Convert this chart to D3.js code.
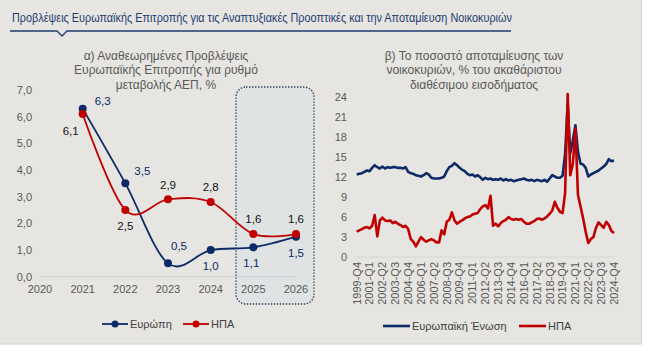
<!DOCTYPE html>
<html>
<head>
<meta charset="utf-8">
<script src="https://cdn.jsdelivr.net/npm/d3@7"></script>
<style>
  body { margin: 0; background: #ffffff; }
  svg { display: block; font-family: "Liberation Sans", Arial, sans-serif; }
</style>
</head>
<body>
<svg id="chart" width="650" height="351"></svg>
<script>
// ---- data ----
const years = [2021, 2022, 2023, 2024, 2025, 2026];
const europeGdp = [6.3, 3.5, 0.5, 1.0, 1.1, 1.5];
const usaGdp = [6.1, 2.5, 2.9, 2.8, 1.6, 1.6];
const yearTicks = [2020, 2021, 2022, 2023, 2024, 2025, 2026];
const gdpTicks = [0, 1, 2, 3, 4, 5, 6, 7];

// quarterly saving rates, 1999-Q4 .. 2024-Q4
const euSaving = [
  12.4, 12.5, 12.6, 12.8, 13.0, 12.9, 13.4, 13.8, 13.5, 13.3,
  13.6, 13.3, 13.5, 13.4, 13.5, 13.5, 13.4, 13.4, 13.3, 13.5,
  12.8, 12.6, 12.5, 12.3, 12.2, 12.1, 12.3, 12.6, 12.4, 11.9,
  11.8, 11.8, 11.8, 11.9, 12.1, 12.9, 13.5, 13.7, 14.1, 13.8,
  13.4, 13.1, 12.9, 12.5, 12.3, 12.4, 12.1, 12.3, 12.0, 11.6,
  11.9, 11.7, 11.8, 11.6, 11.7, 11.6, 11.8, 11.5, 11.7, 11.5,
  11.6, 11.4, 11.5, 11.6, 11.7, 11.8, 11.6, 11.5, 11.6, 11.4,
  11.6, 11.5, 11.4, 11.6, 11.3, 11.8, 12.3, 12.1, 11.9, 11.9,
  12.2, 15.5, 23.0, 15.6, 17.5, 19.8, 15.8, 14.0, 13.9, 13.4,
  12.1, 12.4, 12.6, 12.8, 13.0, 13.3, 13.6, 14.0, 14.7, 14.4,
  14.5
];
const usSaving = [
  3.8, 4.0, 4.2, 4.4, 4.5, 4.3, 4.7, 6.3, 3.1, 5.5,
  5.9, 5.5, 5.4, 5.5, 5.1, 5.3, 5.0, 4.8, 4.5, 4.7,
  4.2, 2.7, 2.3, 1.6, 2.3, 3.0, 2.6, 2.3, 2.5, 2.7,
  2.5, 2.2, 2.2, 4.0, 3.4, 5.3, 5.6, 6.7, 5.5, 5.0,
  5.3, 5.5, 5.8, 6.0, 6.1, 6.4, 6.5, 6.6, 7.2, 7.6,
  7.8, 7.3, 9.2, 4.7, 5.0, 4.6, 5.1, 5.4, 5.6, 6.0,
  5.7, 5.6, 5.7, 5.6, 5.7, 5.3, 5.0, 5.0, 5.2, 5.4,
  5.7, 5.8, 5.6, 5.8, 6.1, 6.5, 7.0, 8.3, 7.4, 6.8,
  6.6, 9.6, 24.5, 12.3, 14.0, 19.3, 9.3, 7.6, 5.8, 3.8,
  2.1, 2.7, 3.0, 4.4, 5.2, 4.8, 4.4, 5.3, 4.8, 3.9,
  3.6
];
const savingTicks = [0, 3, 6, 9, 12, 15, 18, 21, 24];
const quarterTickLabels = [
  "1999-Q4", "2001-Q1", "2002-Q2", "2003-Q3", "2004-Q4", "2006-Q1", "2007-Q2",
  "2008-Q3", "2009-Q4", "2011-Q1", "2012-Q2", "2013-Q3", "2014-Q4", "2016-Q1",
  "2017-Q2", "2018-Q3", "2019-Q4", "2021-Q1", "2022-Q2", "2023-Q3", "2024-Q4"
];

const navy = "#0c2a68";
const red = "#c00000";
const grey = "#595959";

const svg = d3.select("#chart");

// panel
svg.append("rect")
  .attr("x", -1).attr("y", -1).attr("width", 642.5).attr("height", 345)
  .attr("fill", "#e6e5e1").attr("stroke", "#d2d2d2");

// title (condensed look by horizontal squeeze)
svg.append("text")
  .attr("transform", "translate(12,22) scale(0.836,1)")
  .attr("font-size", 13)
  .attr("fill", "#1f3b73")
  .text("Προβλέψεις Ευρωπαϊκής Επιτροπής για τις Αναπτυξιακές Προοπτικές και την Αποταμίευση Νοικοκυριών");
svg.append("path")
  .attr("d", "M10,31H57L62,36L67,31H511")
  .attr("fill", "none").attr("stroke", "#1f3b73").attr("stroke-width", 1.3);

function subtitle(lines, cx) {
  svg.append("g").selectAll("text").data(lines).join("text")
    .attr("x", cx).attr("y", (d, i) => 60 + i * 14.3)
    .attr("text-anchor", "middle").attr("font-size", 12).attr("fill", grey)
    .text(d => d);
}

// ---------- left chart ----------
subtitle(["α) Αναθεωρημένες Προβλέψεις", "Ευρωπαϊκής Επιτροπής για ρυθμό", "μεταβολής ΑΕΠ, %"], 166);

const xL = d3.scaleLinear().domain([2020, 2026]).range([40, 296]);
const yL = d3.scaleLinear().domain([0, 7]).range([276.7, 90]);
const fmt = v => d3.format(".1f")(v).replace(".", ",");

// forecast highlight box
svg.append("rect")
  .attr("x", 236).attr("y", 87).attr("width", 78).attr("height", 217)
  .attr("rx", 10)
  .attr("fill", "#dfe3e4").attr("stroke", "#2c3e58")
  .attr("stroke-width", 1.4).attr("stroke-dasharray", "1.4,1.6");

svg.append("line")
  .attr("x1", xL(2020)).attr("x2", xL(2026))
  .attr("y1", yL(0)).attr("y2", yL(0))
  .attr("stroke", "#cfd3d6");

svg.append("g").selectAll("text").data(gdpTicks).join("text")
  .attr("x", 32).attr("y", d => yL(d)).attr("dy", "0.35em")
  .attr("text-anchor", "end").attr("font-size", 11).attr("fill", grey)
  .text(d => fmt(d));

svg.append("g").selectAll("text").data(yearTicks).join("text")
  .attr("x", d => xL(d)).attr("y", 293)
  .attr("text-anchor", "middle").attr("font-size", 11).attr("fill", grey)
  .text(d => d);

const curve = d3.curveCatmullRom.alpha(0);
const lineL = d3.line().x(d => xL(d[0])).y(d => yL(d[1])).curve(curve);

const eu = years.map((y, i) => [y, europeGdp[i]]);
const us = years.map((y, i) => [y, usaGdp[i]]);

[[eu, navy], [us, red]].forEach(([pts, col]) => {
  svg.append("path").datum(pts)
    .attr("d", lineL).attr("fill", "none")
    .attr("stroke", col).attr("stroke-width", 1.8);
  svg.append("g").selectAll("circle").data(pts).join("circle")
    .attr("cx", d => xL(d[0])).attr("cy", d => yL(d[1])).attr("r", 4)
    .attr("fill", col);
});

// label offsets relative to each point
const euLabelOff = [[20, -8], [17, -12], [11, -17], [0, 16], [-2, 16], [0, 16]];
const usLabelOff = [[-12, 17], [0, 16], [0, -14], [0, -15], [0, -15], [0, -15]];
svg.append("g").selectAll("text").data(eu).join("text")
  .attr("x", (d, i) => xL(d[0]) + euLabelOff[i][0])
  .attr("y", (d, i) => yL(d[1]) + euLabelOff[i][1]).attr("dy", "0.35em")
  .attr("text-anchor", "middle").attr("font-size", 11.5).attr("fill", navy)
  .text(d => fmt(d[1]));
svg.append("g").selectAll("text").data(us).join("text")
  .attr("x", (d, i) => xL(d[0]) + usLabelOff[i][0])
  .attr("y", (d, i) => yL(d[1]) + usLabelOff[i][1]).attr("dy", "0.35em")
  .attr("text-anchor", "middle").attr("font-size", 11.5).attr("fill", "#111")
  .text(d => fmt(d[1]));

// left legend
[[102, navy, "Ευρώπη"], [183, red, "ΗΠΑ"]].forEach(([x0, col, name]) => {
  svg.append("line").attr("x1", x0).attr("x2", x0 + 26)
    .attr("y1", 324).attr("y2", 324).attr("stroke", col).attr("stroke-width", 1.8);
  svg.append("circle").attr("cx", x0 + 13).attr("cy", 324).attr("r", 3.5).attr("fill", col);
  svg.append("text").attr("x", x0 + 28).attr("y", 324).attr("dy", "0.35em")
    .attr("font-size", 11).attr("fill", "#404040").text(name);
});

// ---------- right chart ----------
subtitle(["β) Το ποσοστό αποταμίευσης των", "νοικοκυριών, % του ακαθάριστου", "διαθέσιμου εισοδήματος"], 474);

const xR = d3.scaleLinear().domain([0, euSaving.length - 1]).range([356.7, 614]);
const yR = d3.scaleLinear().domain([0, 24]).range([257, 97.3]);

svg.append("line")
  .attr("x1", xR(0)).attr("x2", xR(euSaving.length - 1))
  .attr("y1", yR(0)).attr("y2", yR(0)).attr("stroke", "#d6d6d6");

svg.append("g").selectAll("text").data(savingTicks).join("text")
  .attr("x", 347).attr("y", d => yR(d)).attr("dy", "0.35em")
  .attr("text-anchor", "end").attr("font-size", 11).attr("fill", grey)
  .text(d => d);

svg.append("g").selectAll("text").data(quarterTickLabels).join("text")
  .attr("transform", (d, i) => `translate(${xR(i * 5)},262) rotate(-90)`)
  .attr("dy", "0.35em").attr("text-anchor", "end")
  .attr("font-size", 11).attr("fill", grey)
  .text(d => d);

const lineR = d3.line().x((d, i) => xR(i)).y(d => yR(d));
[[euSaving, navy], [usSaving, red]].forEach(([vals, col]) => {
  svg.append("path").datum(vals)
    .attr("d", lineR).attr("fill", "none")
    .attr("stroke", col).attr("stroke-width", 2.6)
    .attr("stroke-linejoin", "round");
});

// right legend
[[383, navy, "Ευρωπαϊκή Ένωση"], [519, red, "ΗΠΑ"]].forEach(([x0, col, name]) => {
  svg.append("line").attr("x1", x0).attr("x2", x0 + 27)
    .attr("y1", 326).attr("y2", 326).attr("stroke", col).attr("stroke-width", 2.6);
  svg.append("text").attr("x", x0 + 29).attr("y", 326).attr("dy", "0.35em")
    .attr("font-size", 11).attr("fill", "#404040").text(name);
});
</script>
</body>
</html>
